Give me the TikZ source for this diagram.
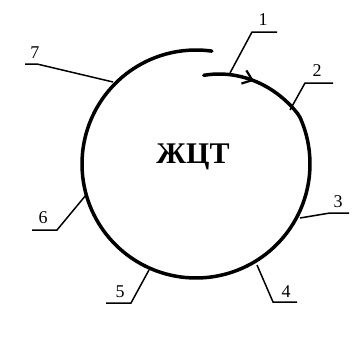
\documentclass[tikz,border=0pt]{standalone}
\usepackage{fontspec}
\setmainfont{Liberation Serif}
\usetikzlibrary{arrows.meta}
\begin{document}
\begin{tikzpicture}[x=1pt,y=-1pt,
  leader/.style={line width=1.5pt},
  num/.style={font=\fontsize{18}{18}\selectfont, inner sep=0pt},
  spiral/.style={line width=3.5pt, line join=round, line cap=round}]
\useasboundingbox (0,0) rectangle (359,343);
\fill[white] (0,0) rectangle (359,343);
% spiral track
\draw[spiral]
  plot[domain=85:-278, samples=150]
  ({196+min(114,89+25*(85-\x)/60)*cos(\x)}, {164-min(114,89+25*(85-\x)/60)*sin(\x)});
% arrowhead on the track
\coordinate (a0) at (245.8,77.7);
\coordinate (a1) at (254,80.8);
\draw[line width=2.2pt, -{Straight Barb[length=9pt,width=14pt,line width=2.2pt]}] (a0) -- (a1);
% center text
\node[font=\fontsize{30}{30}\selectfont\bfseries] (t) at (193,157) {ЖЦТ};
% leader points
\coordinate (c1) at (230,73);  \coordinate (k1) at (252,32);  \coordinate (e1) at (277,32);
\coordinate (c2) at (290,110); \coordinate (k2) at (305,83);  \coordinate (e2) at (333,83);
\coordinate (c3) at (300,218); \coordinate (k3) at (330,213); \coordinate (e3) at (349,213);
\coordinate (c4) at (257,265); \coordinate (k4) at (273,302); \coordinate (e4) at (297,302);
\coordinate (c5) at (149,270); \coordinate (k5) at (131,303); \coordinate (e5) at (106,303);
\coordinate (c6) at (86,195);  \coordinate (k6) at (57,230);  \coordinate (e6) at (32,230);
\coordinate (c7) at (113,82);  \coordinate (k7) at (37,64);   \coordinate (e7) at (25,64);
\foreach \i in {1,...,7}{\draw[leader] (c\i) -- (k\i) -- (e\i);}
% labels
\node[num] (l1) at (263,20) {1};
\node[num] (l2) at (317,71) {2};
\node[num] (l3) at (338,202) {3};
\node[num] (l4) at (286,292) {4};
\node[num] (l5) at (120,292) {5};
\node[num] (l6) at (43,218) {6};
\node[num] (l7) at (35,53) {7};
\end{tikzpicture}
\end{document}
